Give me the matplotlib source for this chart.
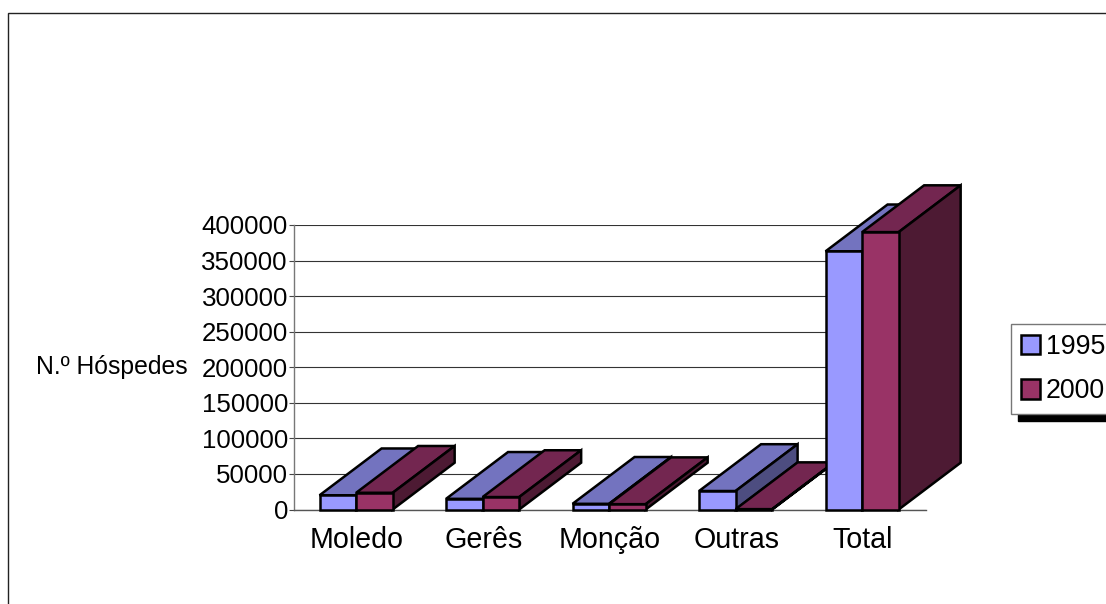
"""
N.o Hospedes por termas, 1995 e 2000 (fake 3D columns)
"""
import matplotlib
matplotlib.use("Agg")
import matplotlib.pyplot as plt
from matplotlib.patches import Patch, Polygon, Rectangle

categories = ["Moledo", "Gerês", "Monção", "Outras", "Total"]
series_names = ["1995", "2000"]
values_1995 = [20000, 15000, 8000, 26000, 363000]
values_2000 = [23500, 17500, 7500, 500, 390000]
y_ticks = [0, 50000, 100000, 150000, 200000, 250000, 300000, 350000, 400000]

WIDTH, HEIGHT = 1106, 604
BAR_LEFT = 0.206
BAR_WIDTH = 0.289
DEPTH_X = 0.49
DEPTH_Y = 65800
EDGE = 1.8

plt.rcParams["font.family"] = ["Liberation Sans", "DejaVu Sans"]
plt.rcParams["font.size"] = 18.6

fig = plt.figure(figsize=(WIDTH / 100, HEIGHT / 100), dpi=100)
ax = fig.add_axes([293.5 / WIDTH, 1 - 509.5 / HEIGHT, 632.5 / WIDTH, 284.5 / HEIGHT])
ax.set_xlim(0, 5)
ax.set_ylim(0, 400000)

fig.add_artist(Rectangle((8 / WIDTH, -0.1), 1.2, 0.1 + 1 - 13 / HEIGHT,
                         transform=fig.transFigure, fill=False,
                         edgecolor="#222222", linewidth=1.0))


def bar_3d(x_left, value, front, top, side, order):
    """
    Draw one column: front face, top face and side face
    """
    x_right = x_left + BAR_WIDTH
    faces = [
        ([(x_left, value), (x_left + DEPTH_X, value + DEPTH_Y),
          (x_right + DEPTH_X, value + DEPTH_Y), (x_right, value)], top),
        ([(x_right, 0), (x_right + DEPTH_X, DEPTH_Y),
          (x_right + DEPTH_X, value + DEPTH_Y), (x_right, value)], side),
        ([(x_left, 0), (x_left, value), (x_right, value), (x_right, 0)], front),
    ]
    for points, color in faces:
        ax.add_patch(Polygon(points, closed=True, facecolor=color, edgecolor="black",
                             linewidth=EDGE, joinstyle="miter", clip_on=False,
                             zorder=order))


for i in range(len(categories)):
    bar_3d(i + BAR_LEFT, values_1995[i], "#9999FF", "#7373BF", "#4D4D80", 3 + i * 2)
    bar_3d(i + BAR_LEFT + BAR_WIDTH, values_2000[i], "#993366", "#732650", "#4D1A33", 4 + i * 2)

ax.set_xticks([i + 0.5 for i in range(len(categories))])
ax.set_xticklabels(categories, fontsize=20.6)
ax.set_yticks(y_ticks)
ax.tick_params(axis="x", length=0, pad=12)
ax.tick_params(axis="y", length=3.5, width=0.8, color="#444444", pad=0.5)
ax.yaxis.grid(True, color="#333333", linewidth=0.8)
ax.set_axisbelow(True)
for name in ("top", "right"):
    ax.spines[name].set_visible(False)
ax.spines["left"].set_color("#777777")
ax.spines["left"].set_linewidth(1.0)
ax.spines["bottom"].set_color("#555555")
ax.spines["bottom"].set_linewidth(1.0)

fig.text(36 / WIDTH, 1 - 367 / HEIGHT, "N.º Hóspedes", ha="left", va="center", fontsize=17.8)

handles = [Patch(facecolor="#9999FF", edgecolor="black", linewidth=EDGE),
           Patch(facecolor="#993366", edgecolor="black", linewidth=EDGE)]
fig.legend(handles, series_names, loc="upper left", fontsize=19.3,
           bbox_to_anchor=(1011 / WIDTH, 1 - 324 / HEIGHT),
           bbox_transform=fig.transFigure, borderaxespad=0, borderpad=0.36,
           handlelength=0.74, handleheight=0.74, handletextpad=0.2,
           labelspacing=0.69, fancybox=False, framealpha=1, edgecolor="#777777",
           shadow={"ox": 5, "oy": -5, "facecolor": "black", "edgecolor": "black", "alpha": 1})

fig.savefig("out.png", dpi=100)
